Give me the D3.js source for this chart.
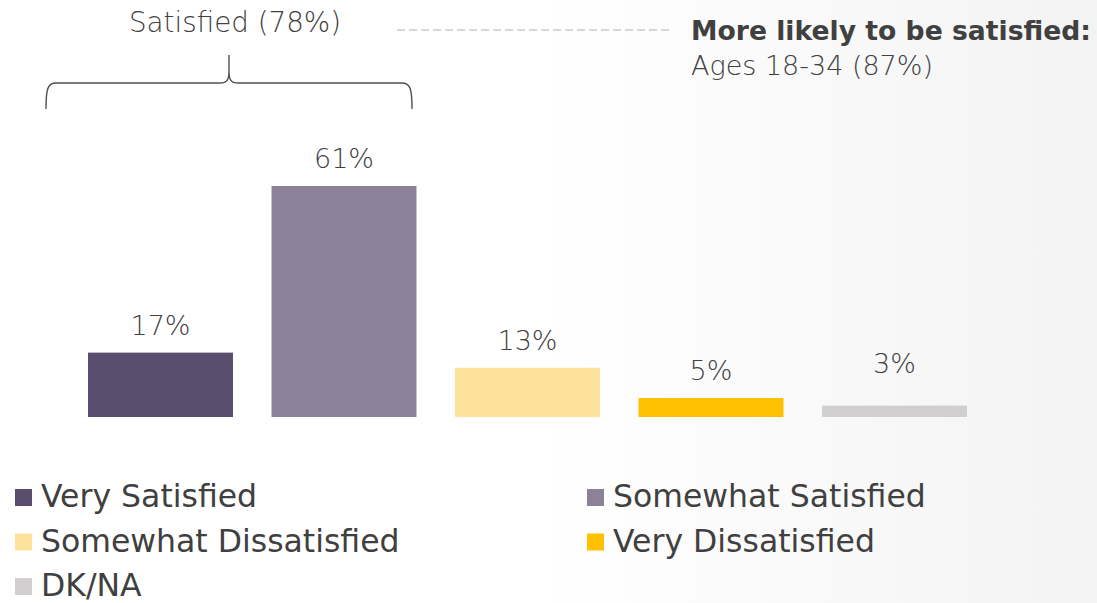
<!DOCTYPE html>
<html>
<head>
<meta charset="utf-8">
<script src="https://cdn.jsdelivr.net/npm/d3@7"></script>
<style>
  html, body { margin: 0; padding: 0; background: #fff; }
  svg { display: block; }
  text { font-family: "DejaVu Sans", "Open Sans", sans-serif; fill: #404040; }
</style>
</head>
<body>
<script>
// Satisfaction breakdown
const categories = ["Very Satisfied", "Somewhat Satisfied", "Somewhat Dissatisfied", "Very Dissatisfied", "DK/NA"];
const values = [17, 61, 13, 5, 3];
const colors = ["#594d6e", "#8b8199", "#fde29b", "#ffc000", "#d0cece"];
const groupLabel = "Satisfied (78%)";
const calloutTitle = "More likely to be satisfied:";
const calloutText = "Ages 18-34 (87%)";

const W = 1097, H = 603;
const svg = d3.select("body").append("svg").attr("width", W).attr("height", H);

// size a text so it spans the given width
function fit(sel, width) {
  sel.each(function () {
    const t = d3.select(this);
    const fs = parseFloat(t.style("font-size"));
    const w = this.getComputedTextLength();
    if (w > 0) t.style("font-size", (fs * width / w).toFixed(2) + "px");
  });
}

// soft grey wash towards the right edge
const defs = svg.append("defs");
const grad = defs.append("linearGradient").attr("id", "bg").attr("x1", "0").attr("x2", "1").attr("y1", "0").attr("y2", "0");
grad.append("stop").attr("offset", "0.5").attr("stop-color", "#ffffff");
grad.append("stop").attr("offset", "1").attr("stop-color", "#f3f3f3");
svg.append("rect").attr("width", W).attr("height", H).attr("fill", "url(#bg)");

const x = d3.scaleBand().domain(categories).range([68.75, 986.25]).paddingInner(0.21).paddingOuter(0.105);
const y = d3.scaleLinear().domain([0, 100]).range([417, 38.3]);

const data = categories.map((c, i) => ({ cat: c, v: values[i], color: colors[i] }));

// bars
svg.append("g").selectAll("rect").data(data).join("rect")
  .attr("x", d => x(d.cat))
  .attr("y", d => y(d.v))
  .attr("width", x.bandwidth())
  .attr("height", d => y(0) - y(d.v))
  .attr("fill", d => d.color);

// value labels (the DK/NA label sits a little higher)
const labelNudge = { "DK/NA": 15 };
svg.append("g").selectAll("text").data(data).join("text")
  .attr("x", d => x(d.cat) + x.bandwidth() / 2)
  .attr("y", d => y(d.v) - 18 - (labelNudge[d.cat] || 0))
  .attr("text-anchor", "middle")
  .style("font-size", "27px")
  .style("font-weight", "300")
  .text(d => d.v + "%");

// brace over the two "satisfied" bars
const bx0 = 46, bx1 = 412, bmid = (bx0 + bx1) / 2, by = 83, bBottom = 109, bTip = 55;
svg.append("path")
  .attr("d", `M${bx0},${bBottom} C${bx0},${by + 5} ${bx0 + 2},${by} ${bx0 + 10},${by}
              L${bmid - 9},${by} C${bmid - 2},${by} ${bmid},${by - 3} ${bmid},${by - 12} L${bmid},${bTip}
              M${bmid},${by - 12} C${bmid},${by - 3} ${bmid + 2},${by} ${bmid + 9},${by}
              L${bx1 - 10},${by} C${bx1 - 2},${by} ${bx1},${by + 5} ${bx1},${bBottom}`)
  .attr("fill", "none").attr("stroke", "#505050").attr("stroke-width", 1.4);

svg.append("text").attr("x", 235).attr("y", 32).attr("text-anchor", "middle")
  .style("font-size", "28px").style("font-weight", "300").text(groupLabel)
  .call(fit, 212);

// dashed leader to the callout
svg.append("line").attr("x1", 397).attr("x2", 670).attr("y1", 30).attr("y2", 30)
  .attr("stroke", "#b0b0b0").attr("stroke-width", 1.2).attr("stroke-dasharray", "8,4");

svg.append("text").attr("x", 691).attr("y", 40)
  .style("font-size", "26px").style("font-weight", "bold").text(calloutTitle)
  .call(fit, 400);
svg.append("text").attr("x", 691).attr("y", 75)
  .style("font-size", "28px").style("font-weight", "300").text(calloutText)
  .call(fit, 242);

// legend: two columns
const legend = svg.append("g").selectAll("g").data(data).join("g")
  .attr("transform", (d, i) => `translate(${i % 2 === 0 ? 15 : 587},${489 + Math.floor(i / 2) * 44.5})`);
legend.append("rect").attr("width", 17).attr("height", 17).attr("fill", d => d.color);
legend.append("text").attr("x", 26).attr("y", 18)
  .style("font-size", "31.5px").style("font-weight", "normal").text(d => d.cat);
</script>
</body>
</html>
